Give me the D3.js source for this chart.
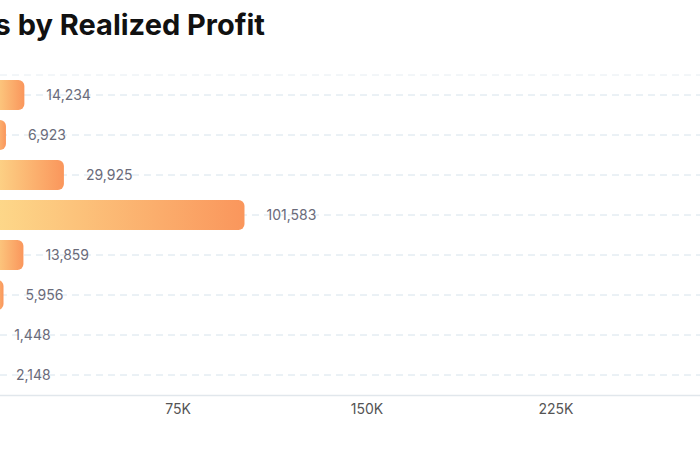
<!DOCTYPE html>
<html>
<head>
<meta charset="utf-8">
<script src="https://cdn.jsdelivr.net/npm/d3@7"></script>
<style>
  html, body { margin: 0; padding: 0; background: #fff; }
  svg { display: block; font-family: Inter, "Noto Sans", sans-serif; }
</style>
</head>
<body>
<svg id="chart" width="700" height="450"></svg>
<script>
const titleText = "Top Wallets by Realized Profit";
const categories = ["Wallet A", "Wallet B", "Wallet C", "Wallet D", "Wallet E", "Wallet F", "Wallet G", "Wallet H"];
const profits = [14234, 6923, 29925, 101583, 13859, 5956, 1448, 2148];
const tickValues = [0, 75000, 150000, 225000, 300000];
const tickLabels = ["0", "75K", "150K", "225K", "300K"];

const svg = d3.select("#chart");
const W = 700, H = 450;
const plot = { left: -11.5, right: 744.5, top: 75, bottom: 395 };

const defs = svg.append("defs");
const grad = defs.append("linearGradient").attr("id", "barGrad")
  .attr("x1", "0%").attr("x2", "100%").attr("y1", "0%").attr("y2", "0%");
grad.append("stop").attr("offset", "0%").attr("stop-color", "#fdda8b");
grad.append("stop").attr("offset", "100%").attr("stop-color", "#fa965c");

const x = d3.scaleLinear().domain([0, 300000]).range([plot.left, plot.right]);
const y = d3.scaleBand().domain(categories).range([plot.top, plot.bottom])
  .paddingInner(0.25).paddingOuter(0.125);

// title
svg.append("text")
  .attr("x", 265).attr("y", 35)
  .attr("text-anchor", "end")
  .attr("font-size", 29).attr("font-weight", 700)
  .attr("fill", "#111")
  .text(titleText);

// top dashed border line
svg.append("line")
  .attr("x1", 0).attr("x2", W)
  .attr("y1", plot.top).attr("y2", plot.top)
  .attr("stroke", "#e6edf2").attr("stroke-width", 1)
  .attr("stroke-dasharray", "7,5");

// row gridlines
svg.append("g").selectAll("line").data(categories).join("line")
  .attr("x1", 0).attr("x2", W)
  .attr("y1", d => y(d) + y.bandwidth() / 2)
  .attr("y2", d => y(d) + y.bandwidth() / 2)
  .attr("stroke", "#d6e3ec").attr("stroke-width", 1)
  .attr("stroke-dasharray", "7,5");

// bars
svg.append("g").selectAll("rect").data(categories).join("rect")
  .attr("x", x(0))
  .attr("y", d => y(d))
  .attr("width", (d, i) => x(profits[i]) - x(0))
  .attr("height", y.bandwidth())
  .attr("rx", 6).attr("ry", 6)
  .attr("fill", "url(#barGrad)");

// category labels (off the left edge, as in the reference)
svg.append("g").selectAll("text").data(categories).join("text")
  .attr("x", x(0) - 10)
  .attr("y", d => y(d) + y.bandwidth() / 2)
  .attr("dy", "0.35em")
  .attr("text-anchor", "end")
  .attr("font-size", 14).attr("fill", "#555")
  .text(d => d);

// value labels
svg.append("g").selectAll("text").data(categories).join("text")
  .attr("x", (d, i) => x(profits[i]) + 22)
  .attr("y", d => y(d) + y.bandwidth() / 2)
  .attr("dy", "0.35em")
  .attr("font-size", 14).attr("fill", "#6a6b7a")
  .text((d, i) => d3.format(",")(profits[i]));

// x axis
const axis = d3.axisBottom(x).tickValues(tickValues)
  .tickFormat((d, i) => tickLabels[i]).tickSize(0).tickPadding(9);
const gx = svg.append("g").attr("transform", `translate(0,${plot.bottom})`).call(axis);
gx.select(".domain").attr("stroke", "#e1e7ec").attr("stroke-width", 1.5);
gx.selectAll("text").attr("font-size", 14).attr("fill", "#555")
  .attr("font-family", "Inter, 'Noto Sans', sans-serif");
</script>
</body>
</html>
